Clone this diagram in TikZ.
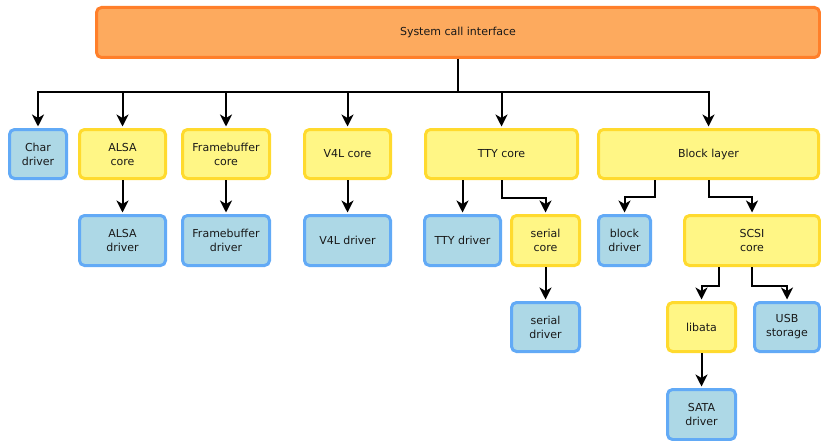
\documentclass[tikz,border=0pt]{standalone}
\usepackage{fontspec}
\setmainfont{DejaVu Sans}
\usetikzlibrary{arrows.meta}
\definecolor{sysfill}{HTML}{FDAA5E}
\definecolor{sysline}{HTML}{FF7F2A}
\definecolor{corefill}{HTML}{FFF685}
\definecolor{coreline}{HTML}{FFDA2E}
\definecolor{drvfill}{HTML}{ADD8E6}
\definecolor{drvline}{HTML}{62AAF6}
\begin{document}
\begin{tikzpicture}[>={Stealth[length=12pt,width=12pt,inset=3.5pt]},x=1pt,y=-1pt,
	box/.style={rounded corners=5pt,line width=3pt,align=center,inner sep=0pt,text=black!90,font=\fontsize{11}{14}\selectfont},
	sys/.style={box,draw=sysline,fill=sysfill},
	core/.style={box,draw=coreline,fill=corefill},
	drv/.style={box,draw=drvline,fill=drvfill},
	link/.style={->,line width=2pt,shorten >=1.5pt}]
			\useasboundingbox (0,0) rectangle (821,441);
			\node[sys,minimum width=723pt,minimum height=50pt] (sci) at (458,32.5) {System call interface};
			% hàng 1
			\node[drv,minimum width=57pt,minimum height=49pt] (chr) at (38,154) {Char\\driver};
			\node[core,minimum width=86pt,minimum height=49pt] (alsa) at (122.5,154) {ALSA\\core};
			\node[core,minimum width=87pt,minimum height=49pt] (fb) at (226,154) {Framebuffer\\core};
			\node[core,minimum width=86pt,minimum height=49pt] (v4l) at (347.5,154) {V4L core};
			\node[core,minimum width=152pt,minimum height=49pt] (tty) at (501.5,154) {TTY core};
			\node[core,minimum width=220pt,minimum height=49pt] (blk) at (708.5,154) {Block layer};
			% hàng 2
			\node[drv,minimum width=86pt,minimum height=50pt] (alsadrv) at (122.5,240.5) {ALSA\\driver};
			\node[drv,minimum width=87pt,minimum height=50pt] (fbdrv) at (226,240.5) {Framebuffer\\driver};
			\node[drv,minimum width=86pt,minimum height=50pt] (v4ldrv) at (347.5,240.5) {V4L driver};
			\node[drv,minimum width=76pt,minimum height=50pt] (ttydrv) at (462.5,240.5) {TTY driver};
			\node[core,minimum width=68pt,minimum height=50pt] (sercore) at (545.5,240.5) {serial\\core};
			\node[drv,minimum width=52pt,minimum height=50pt] (blkdrv) at (624.5,240.5) {block\\driver};
			\node[core,minimum width=135pt,minimum height=50pt] (scsi) at (752,240.5) {SCSI\\core};
			% hàng 3, 4
			\node[drv,minimum width=68pt,minimum height=49pt] (serdrv) at (545.5,327) {serial\\driver};
			\node[core,minimum width=68pt,minimum height=49pt] (libata) at (701.5,327) {libata};
			\node[drv,minimum width=65pt,minimum height=49pt] (usb) at (787,327) {USB\\storage};
			\node[drv,minimum width=68pt,minimum height=50pt] (sata) at (701.5,414.5) {SATA\\driver};
			% đường nối
			\coordinate (bus) at (458,92.5);
			\draw[line width=2pt] (sci.south) -- (bus);
			\foreach \n in {chr,alsa,fb,v4l,tty,blk}
				\draw[link] (bus) -| (\n.north);
			\draw[link] (alsa) -- (alsadrv);
			\draw[link] (fb) -- (fbdrv);
			\draw[link] (v4l) -- (v4ldrv);
			\draw[link] (tty.south -| ttydrv.north) -- (ttydrv.north);
			\draw[link] (tty.south) -- ++(0,18) -| (sercore.north);
			\draw[link] (sercore) -- (serdrv);
			\draw[link] ([xshift=-54pt]blk.south) -- ++(0,17) -| (blkdrv.north);
			\draw[link] (blk.south) -- ++(0,17) -| (scsi.north);
			\draw[link] ([xshift=-33pt]scsi.south) -- ++(0,18.5) -| (libata.north);
			\draw[link] (scsi.south) -- ++(0,18.5) -| (usb.north);
			\draw[link] (libata) -- (sata);
		\end{tikzpicture}
\end{document}
